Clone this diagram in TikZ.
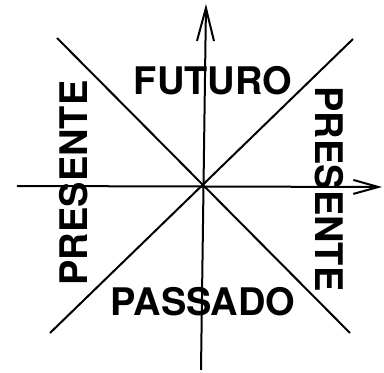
\documentclass[tikz,border=0pt]{standalone}
\usepackage{fontspec}
\setmainfont{TeX Gyre Heros}
\usetikzlibrary{arrows.meta}
\begin{document}
\begin{tikzpicture}[x=1pt,y=1pt,
  axisline/.style={line width=2pt},
  lbl/.style={inner sep=0pt,font=\fontsize{38}{38}\selectfont\bfseries}]
\useasboundingbox (0,0) rectangle (384,373);
\coordinate (top) at (206,369);
\coordinate (bot) at (201,3);
\coordinate (lft) at (17,187);
\coordinate (rgt) at (382,186);
\coordinate (nw) at (57,335);
\coordinate (se) at (350,40);
\coordinate (ne) at (353,334);
\coordinate (sw) at (50,40);
\draw[axisline,-{Straight Barb[length=33pt,width=17pt,line width=2pt]}] (bot) -- (top);
\draw[axisline,-{Straight Barb[length=25pt,width=14pt,line width=2pt]}] (lft) -- (rgt);
\draw[axisline] (nw) -- (se);
\draw[axisline] (ne) -- (sw);
\node[lbl] (fut) at (213,292) {FUTURO};
\node[lbl] (pas) at (203,71) {PASSADO};
\node[lbl,rotate=90] (presl) at (74,190) {PRESENTE};
\node[lbl,rotate=-90] (presr) at (329,184) {PRESENTE};
\end{tikzpicture}
\end{document}
